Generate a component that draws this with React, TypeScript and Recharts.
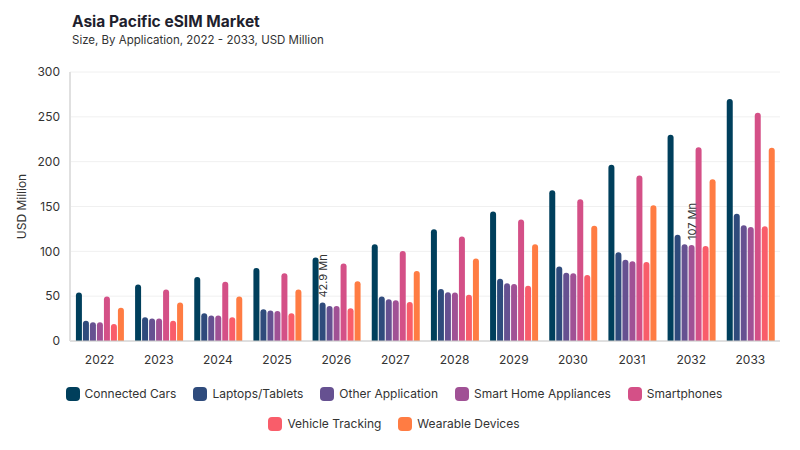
import React from 'react';
import { BarChart, Bar, XAxis, YAxis, CartesianGrid, LabelList } from 'recharts';

const years = ['2022', '2023', '2024', '2025', '2026', '2027', '2028', '2029', '2030', '2031', '2032', '2033'];
const connectedCars = [54, 63, 71.5, 81.5, 93, 108, 124.5, 144.5, 168, 196.5, 230, 270];
const laptopsTablets = [22.5, 26.5, 31, 35.5, 42.9, 49.5, 58, 69.5, 83, 99, 118.5, 142];
const otherApplication = [21, 25, 28.5, 34, 39, 46.5, 54.5, 64.5, 76, 90.5, 108, 129];
const smartHomeAppliances = [21, 25, 28.5, 33.5, 39, 45.5, 54, 63.5, 75.5, 89, 107, 127];
const smartphones = [49.5, 57.5, 66, 75.5, 86.5, 100.5, 116.5, 135.5, 158, 184.5, 216, 254.5];
const vehicleTracking = [19, 22.5, 26.5, 31, 36.5, 43.5, 51.5, 61.5, 73.5, 88, 106, 128];
const wearableDevices = [37, 43, 49.5, 57.5, 66.5, 78, 92, 108, 128.5, 151.5, 180.5, 215.5];
const laptopsLabels = ['', '', '', '', '42.9 Mn', '', '', '', '', '', '', ''];
const smartHomeLabels = ['', '', '', '', '', '', '', '', '', '', '107 Mn', ''];
const yTicks = [0, 50, 100, 150, 200, 250, 300];

const series = [
  { key: 'cc', name: 'Connected Cars', color: '#003f5c', values: connectedCars },
  { key: 'lt', name: 'Laptops/Tablets', color: '#2f4b7c', values: laptopsTablets, labels: laptopsLabels },
  { key: 'oa', name: 'Other Application', color: '#665191', values: otherApplication },
  { key: 'sh', name: 'Smart Home Appliances', color: '#a05195', values: smartHomeAppliances, labels: smartHomeLabels },
  { key: 'sp', name: 'Smartphones', color: '#d45087', values: smartphones },
  { key: 'vt', name: 'Vehicle Tracking', color: '#f95d6a', values: vehicleTracking },
  { key: 'wd', name: 'Wearable Devices', color: '#ff7c43', values: wearableDevices },
];

const data = years.map((y, i) => {
  const row: any = { year: y };
  series.forEach((s) => {
    row[s.key] = s.values[i];
    if (s.labels) row[s.key + '_label'] = s.labels[i];
  });
  return row;
});

const FONT = 'Inter, "Open Sans", sans-serif';

const RotLabel = (props: any) => {
  const { x, y, width, value } = props;
  if (!value) return null;
  const cx = x + width / 2;
  const cy = y - 5;
  return (
    <text
      x={cx}
      y={cy}
      transform={`rotate(-90, ${cx}, ${cy})`}
      textAnchor="start"
      dominantBaseline="central"
      fontSize={11}
      fill="#333"
      fontFamily={FONT}
    >
      {value}
    </text>
  );
};

const YLabel = (props: any) => {
  const vb = props.viewBox || {};
  const cy = vb.y + vb.height / 2;
  return (
    <text
      x={21}
      y={cy}
      transform={`rotate(-90, 21, ${cy})`}
      textAnchor="middle"
      dominantBaseline="central"
      fontSize={12}
      fill="#333"
      fontFamily={FONT}
    >
      USD Million
    </text>
  );
};

const LegendItem = ({ s }: any) => (
  <div style={{ display: 'flex', alignItems: 'center', gap: 5 }}>
    <div style={{ width: 14, height: 14, borderRadius: 4, background: s.color }} />
    <span style={{ fontSize: 12, color: '#333', fontFamily: FONT }}>{s.name}</span>
  </div>
);

export default function App() {
  return (
    <div style={{ position: 'absolute', left: 0, top: 0, width: 800, height: 450, background: '#fff', fontFamily: FONT }}>
      <div style={{ position: 'absolute', left: 72, top: 12, fontSize: 15.5, fontWeight: 700, color: '#1f1f2e' }}>
        Asia Pacific eSIM Market
      </div>
      <div style={{ position: 'absolute', left: 72, top: 33, fontSize: 11.5, color: '#333' }}>
        Size, By Application, 2022 - 2033, USD Million
      </div>
      <BarChart
        width={800}
        height={450}
        data={data}
        margin={{ top: 72, right: 20, bottom: 79, left: 10 }}
        barCategoryGap="10%"
        barGap={1}
      >
        <CartesianGrid vertical={false} stroke="#f0f0f0" />
        <XAxis
          dataKey="year"
          height={30}
          tickLine={false}
          axisLine={{ stroke: '#c8c8c8' }}
          tickMargin={8}
          tick={{ fontSize: 12, fill: '#333', fontFamily: FONT }}
        />
        <YAxis
          width={60}
          domain={[0, 300]}
          ticks={yTicks}
          tickLine={false}
          axisLine={{ stroke: '#e0e0e0', strokeWidth: 2 }}
          tickMargin={4}
          tick={{ fontSize: 12, fill: '#333', fontFamily: FONT }}
          label={<YLabel />}
        />
        {series.map((s) => (
          <Bar key={s.key} dataKey={s.key} name={s.name} fill={s.color} radius={[3, 3, 0, 0]} isAnimationActive={false}>
            {s.labels ? <LabelList dataKey={s.key + '_label'} content={<RotLabel />} /> : null}
          </Bar>
        ))}
      </BarChart>
      <div style={{ position: 'absolute', left: 0, top: 386, width: 788, display: 'flex', justifyContent: 'center', gap: 17 }}>
        {series.slice(0, 5).map((s) => <LegendItem key={s.key} s={s} />)}
      </div>
      <div style={{ position: 'absolute', left: 0, top: 416, width: 788, display: 'flex', justifyContent: 'center', gap: 17 }}>
        {series.slice(5).map((s) => <LegendItem key={s.key} s={s} />)}
      </div>
    </div>
  );
}
